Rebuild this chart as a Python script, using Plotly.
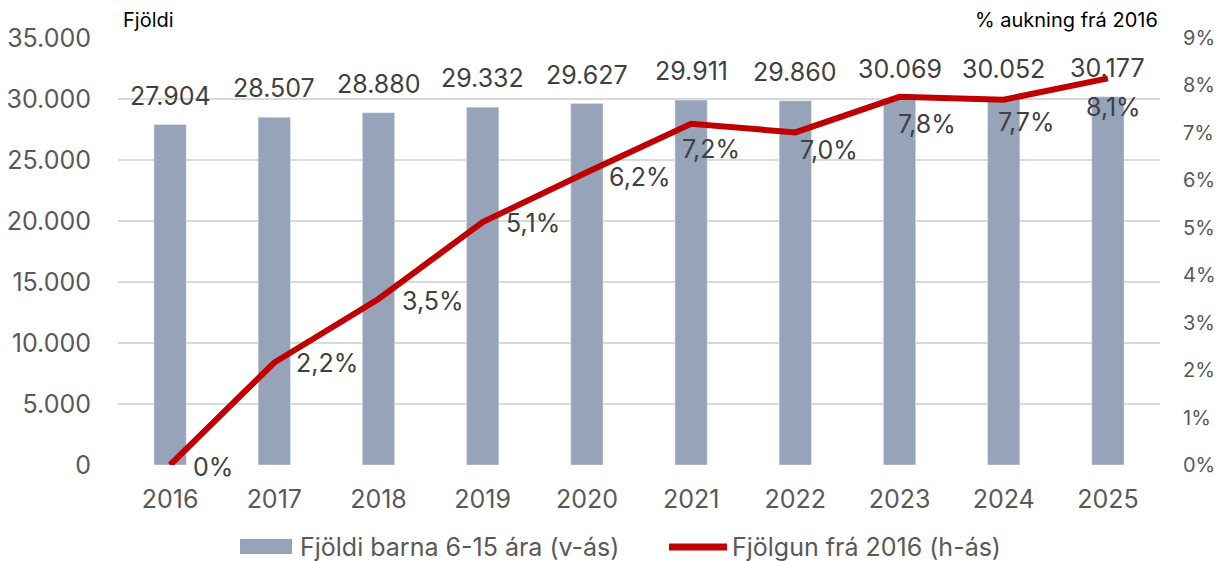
import plotly.graph_objects as go
from plotly.subplots import make_subplots

years = ["2016", "2017", "2018", "2019", "2020", "2021", "2022", "2023", "2024", "2025"]
children = [27904, 28507, 28880, 29332, 29627, 29911, 29860, 30069, 30052, 30177]
growth_pct = [0.0, 2.16, 3.50, 5.12, 6.17, 7.19, 7.01, 7.76, 7.70, 8.15]
growth_labels = ["0%", "2,2%", "3,5%", "5,1%", "6,2%", "7,2%", "7,0%", "7,8%", "7,7%", "8,1%"]
left_ticks = [0, 5000, 10000, 15000, 20000, 25000, 30000, 35000]
right_ticks = [0, 1, 2, 3, 4, 5, 6, 7, 8, 9]

bar_name = "Fjöldi barna 6-15 ára (v-ás)"
line_name = "Fjölgun frá 2016 (h-ás)"

FONT = "Inter, 'Open Sans', sans-serif"
BAR_C = "#97A3B8"
LINE_C = "#C00000"
TXT = "#404040"
TICK = "#595959"
FS = 25

fig = make_subplots(specs=[[{"secondary_y": True}]])
fig.add_trace(go.Bar(x=years, y=children, name=bar_name, marker_color=BAR_C,
                     width=0.31, showlegend=False), secondary_y=False)
fig.add_trace(go.Scatter(x=years, y=growth_pct, name=line_name, mode="lines",
                         line=dict(color=LINE_C, width=6), showlegend=False),
              secondary_y=True)

ann = []
for i, v in enumerate(children):
    ann.append(dict(x=i, y=v, xref="x", yref="y", text=f"{v:,}".replace(",", "."),
                    showarrow=False, yanchor="bottom", xanchor="center", yshift=12,
                    font=dict(family=FONT, size=FS, color=TXT)))

xs = [23, 22, 23, 23, 22, -9, 5, -2, -6, -22]
ys = [-2, 0, -2, -1, -5, -25, -18, -27, -22, -29]
for i, (v, lab, dx, dy) in enumerate(zip(growth_pct, growth_labels, xs, ys)):
    ann.append(dict(x=i, y=v, xref="x", yref="y2", text=lab, showarrow=False,
                    xanchor="left", yanchor="middle", xshift=dx - 2, yshift=dy,
                    font=dict(family=FONT, size=FS, color=TXT)))

ann.append(dict(x=0, y=1, xref="paper", yref="paper", text="Fjöldi", showarrow=False,
                xanchor="left", yanchor="bottom", xshift=3, yshift=4,
                font=dict(family=FONT, size=20, color="#000000")))
ann.append(dict(x=1, y=1, xref="paper", yref="paper", text="% aukning frá 2016",
                showarrow=False, xanchor="right", yanchor="bottom", yshift=4,
                font=dict(family=FONT, size=20, color="#000000")))

# custom legend (matching Excel-style wide symbols)
ann.append(dict(x=0.1727, y=-0.192, xref="paper", yref="paper", text=bar_name,
                showarrow=False, xanchor="left", yanchor="middle",
                font=dict(family=FONT, size=FS, color=TICK)))
ann.append(dict(x=0.5873, y=-0.192, xref="paper", yref="paper", text=line_name,
                showarrow=False, xanchor="left", yanchor="middle",
                font=dict(family=FONT, size=FS, color=TICK)))
shapes = [
    dict(type="rect", xref="paper", yref="paper", x0=0.1171, x1=0.1670,
         y0=-0.2084, y1=-0.1733, fillcolor=BAR_C, line=dict(width=0)),
    dict(type="line", xref="paper", yref="paper", x0=0.5288, x1=0.5845,
         y0=-0.192, y1=-0.192, line=dict(color=LINE_C, width=7)),
]

# page body has an 8px default margin, so the figure is 8px smaller
fig.update_layout(
    width=1215, height=553,
    margin=dict(l=110, r=63, t=30, b=96),
    plot_bgcolor="white", paper_bgcolor="white",
    separators=",.",
    font=dict(family=FONT, size=FS, color=TICK),
    annotations=ann,
    shapes=shapes,
    showlegend=False,
)
fig.update_xaxes(type="category", range=[-0.5, 9.5], domain=[0, 1], showgrid=False,
                 showline=False, ticks="", tickfont=dict(family=FONT, size=FS, color=TICK),
                 ticklabelstandoff=17, automargin=False)
fig.update_yaxes(range=[0, 35000], tickvals=left_ticks, tickformat=",d",
                 showgrid=True, gridcolor="#D9D9D9", gridwidth=1.5, zeroline=False,
                 tickfont=dict(family=FONT, size=FS, color=TICK), ticklabelstandoff=26,
                 automargin=False, secondary_y=False)
fig.update_yaxes(range=[0, 9], tickvals=right_ticks,
                 ticktext=[f"{t}%" for t in right_ticks], showgrid=False,
                 zeroline=False, tickfont=dict(family=FONT, size=20, color=TICK),
                 ticklabelstandoff=22, automargin=False, secondary_y=True)

fig.write_html("out.html")
